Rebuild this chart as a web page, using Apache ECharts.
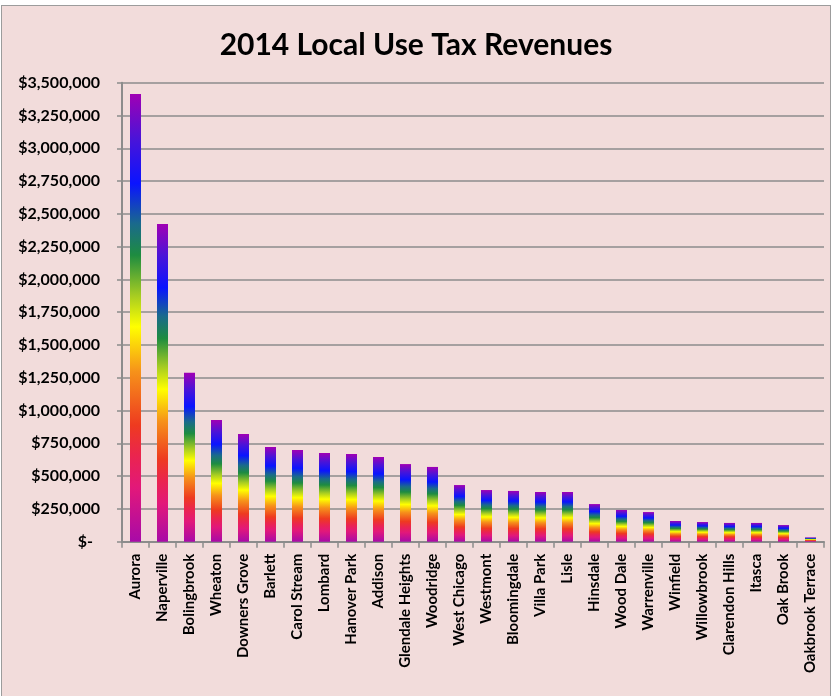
<!DOCTYPE html>
<html>
<head>
<meta charset="utf-8">
<script src="https://cdn.jsdelivr.net/npm/echarts@6/dist/echarts.min.js"></script>
<style>
  html, body { margin: 0; padding: 0; background: #ffffff; width: 832px; height: 696px; overflow: hidden; }
  #frame { position: absolute; left: 1px; top: 5px; width: 828px; height: 700px; border: 1px solid #9c9c9c; background: #f2dcdb; }
  #chart { position: absolute; left: 0; top: 0; width: 832px; height: 696px; }
</style>
</head>
<body>
<div id="frame"></div>
<div id="chart"></div>
<script>
// Municipalities, ordered by 2014 local use tax revenue
const cities = [
  'Aurora', 'Naperville', 'Bolingbrook', 'Wheaton', 'Downers Grove', 'Barlett',
  'Carol Stream', 'Lombard', 'Hanover Park', 'Addison', 'Glendale Heights', 'Woodridge',
  'West Chicago', 'Westmont', 'Bloomingdale', 'Villa Park', 'Lisle', 'Hinsdale',
  'Wood Dale', 'Warrenville', 'Winfield', 'Willowbrook', 'Clarendon Hills', 'Itasca',
  'Oak Brook', 'Oakbrook Terrace'
];

// Revenue in dollars
const revenues = [
  3414000, 2422000, 1289000, 928000, 821000, 722000,
  699000, 676000, 669000, 646000, 592000, 570000,
  432000, 394000, 387000, 379000, 379000, 287000,
  242000, 226000, 158000, 150000, 143000, 143000,
  127000, 33000
];

// Value axis range and step
const axisMax = 3500000;
const axisStep = 250000;

// Rainbow fill applied to every bar, bottom (magenta) to top (purple)
const rainbow = new echarts.graphic.LinearGradient(0, 0, 0, 1, [
  { offset: 0.00, color: '#a000b4' },
  { offset: 0.10, color: '#4a14d8' },
  { offset: 0.20, color: '#0a14ff' },
  { offset: 0.29, color: '#1a6a8c' },
  { offset: 0.36, color: '#1e8c40' },
  { offset: 0.45, color: '#a6cc22' },
  { offset: 0.52, color: '#ffff00' },
  { offset: 0.62, color: '#f6921a' },
  { offset: 0.74, color: '#ee3a20' },
  { offset: 0.81, color: '#ea2450' },
  { offset: 0.88, color: '#e2187a' },
  { offset: 1.00, color: '#a80aa8' }
]);

function money(v) {
  if (v === 0) return '{dash|$-}';
  return '$' + v.toLocaleString('en-US');
}

const chart = echarts.init(document.getElementById('chart'), null, { renderer: 'canvas' });
chart.setOption({
  backgroundColor: 'transparent',
  animation: false,
  textStyle: { fontFamily: 'Lato' },
  title: {
    text: '2014 Local Use Tax Revenues',
    left: 'center',
    top: 25,
    textStyle: { fontFamily: 'Lato', fontWeight: 'bold', fontSize: 30, color: '#000' }
  },
  grid: { left: 122, right: 8, top: 82.7, bottom: 154.3, containLabel: false },
  xAxis: {
    type: 'category',
    data: cities,
    axisLine: { lineStyle: { color: '#8c8c8c', width: 2 } },
    axisTick: { show: true, length: 6, lineStyle: { color: '#8c8c8c', width: 1.5 } },
    axisLabel: {
      rotate: 90, interval: 0, margin: 12,
      fontFamily: 'Lato', fontWeight: 'bold', fontSize: 15, color: '#000'
    }
  },
  yAxis: {
    type: 'value',
    min: 0, max: axisMax, interval: axisStep,
    axisLine: { show: true, lineStyle: { color: '#8c8c8c', width: 2 } },
    axisTick: { show: true, length: 5, lineStyle: { color: '#8c8c8c', width: 1.5 } },
    splitLine: { lineStyle: { color: '#8c8c8c', width: 1.5 } },
    axisLabel: {
      margin: 22, formatter: money,
      fontFamily: 'Lato', fontWeight: 'bold', fontSize: 16, color: '#000',
      rich: { dash: { fontFamily: 'Lato', fontWeight: 'bold', fontSize: 16, color: '#000', padding: [0, 7, 0, 0] } }
    }
  },
  series: [{
    type: 'bar',
    data: revenues,
    barWidth: 11,
    itemStyle: { color: rainbow }
  }]
});
</script>
</body>
</html>
